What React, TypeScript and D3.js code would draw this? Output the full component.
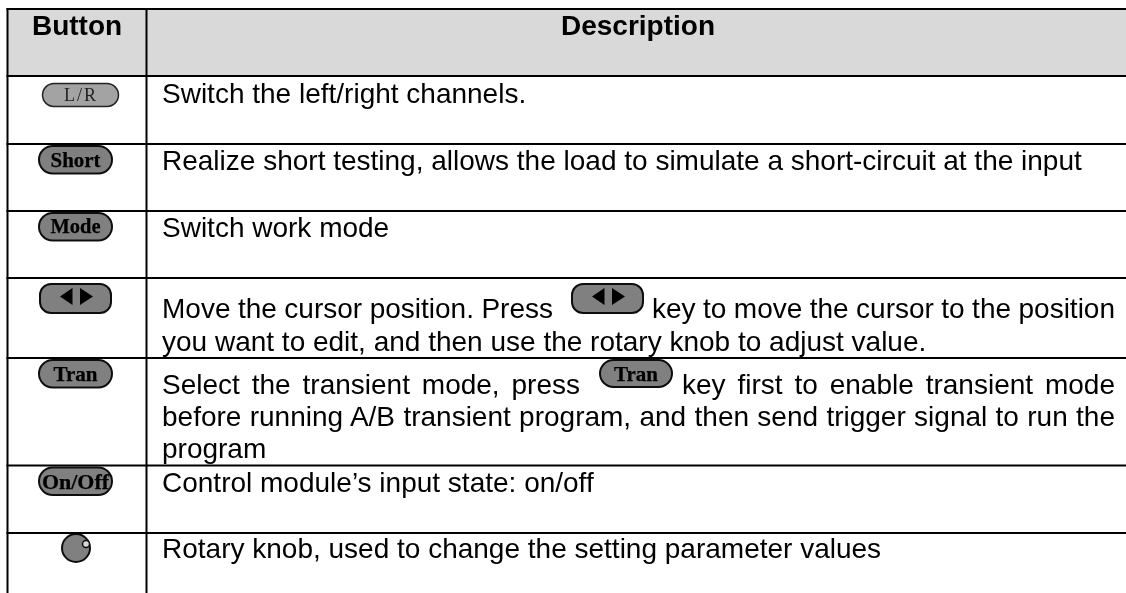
import React, { useEffect, useRef } from "react";
import * as d3 from "d3";

// ---- content ----
const headerLabels = ["Button", "Description"];
const rowKeys = ["lr", "short", "mode", "arrows", "tran", "onoff", "knob"];
const buttonLabels: Record<string, string> = { lr: "L/R", short: "Short", mode: "Mode", tran: "Tran", onoff: "On/Off" };
const rowLines: Record<string, string[][]> = {
  lr: [["Switch the left/right channels."]],
  short: [["Realize short testing, allows the load to simulate a short-circuit at the input"]],
  mode: [["Switch work mode"]],
  arrows: [
    ["Move the cursor position. Press", "key to move the cursor to the position"],
    ["you want to edit, and then use the rotary knob to adjust value."],
  ],
  tran: [
    ["Select the transient mode, press", "key first to enable transient mode"],
    ["before running A/B transient program, and then send trigger signal to run the"],
    ["program"],
  ],
  onoff: [["Control module\u2019s input state: on/off"]],
  knob: [["Rotary knob, used to change the setting parameter values"]],
};

// ---- layout ----
const W = 1126, H = 593;
const hEdges = [9, 76, 144, 211, 278, 358, 465.5, 533];
const vEdges = [7.5, 146.5];
const rowTop = d3.scaleOrdinal<string, number>().domain(rowKeys).range(hEdges.slice(1));
const textX = 162, textRight = 1115, btnX = 38, btnW = 75;
const sans = "'Liberation Sans', Arial, sans-serif";
const serif = "'Liberation Serif', 'Times New Roman', serif";
const baselines: Record<string, number[]> = {
  lr: [103], short: [170], mode: [237], arrows: [318, 351], tran: [394, 426, 458], onoff: [492], knob: [558],
};
// [x0, x1] of each justified segment, by row and line
const spans: Record<string, ([number, number] | null)[][]> = {
  arrows: [[[textX, 553], [652, textRight]], [null]],
  tran: [[[textX, 580], [682, textRight]], [[textX, textRight]], [null]],
};
const labelWidth: Record<string, number> = { short: 50, mode: 50, tran: 44, onoff: 67 };
const labelBase: Record<string, number> = { short: 167, mode: 233, tran: 381, onoff: 489 };

function Arrows({ x, y }: { x: number; y: number }) {
  const tri = d3.line();
  return (
    <g>
      <rect x={x + 1} y={y + 1} width={71} height={29} rx={11} fill="#808080" stroke="#111" strokeWidth={2} />
      <path d={tri([[x + 21, y + 13.5], [x + 33.5, y + 5], [x + 33.5, y + 22]]) + "Z"} fill="#000" />
      <path d={tri([[x + 41, y + 5], [x + 54, y + 13.5], [x + 41, y + 22]]) + "Z"} fill="#000" />
    </g>
  );
}

function Pill({ x, y, w, h, label, width, base }: { x: number; y: number; w: number; h: number; label: string; width: number; base: number }) {
  return (
    <g>
      <rect x={x + 1} y={y + 1} width={w - 2} height={h - 2} rx={(h - 2) / 2} fill="#808080" stroke="#111" strokeWidth={2} />
      <text x={x + w / 2} y={base} textAnchor="middle" fontFamily={serif} fontWeight="bold" fontSize={21}
        fill="#000" stroke="#000" strokeWidth={0.25} textLength={width} lengthAdjust="spacingAndGlyphs">{label}</text>
    </g>
  );
}

export default function App() {
  const ref = useRef<SVGSVGElement>(null);
  useEffect(() => {
    // justify segments by distributing the slack across word gaps
    d3.select(ref.current).selectAll<SVGTextElement, unknown>("text[data-target]").each(function () {
      const target = +this.getAttribute("data-target")!;
      const gaps = (this.textContent || "").split(" ").length - 1;
      const natural = this.getComputedTextLength();
      this.setAttribute("word-spacing", String((target - natural) / gaps));
    });
  }, []);

  return (
    <svg ref={ref} width={W} height={H} style={{ position: "absolute", left: 0, top: 0, background: "#fff" }}>
      <defs>
        <filter id="soft" x="-5%" y="-5%" width="110%" height="110%">
          <feGaussianBlur stdDeviation="0.3" />
        </filter>
      </defs>
      <rect x={vEdges[0]} y={hEdges[0]} width={W - vEdges[0]} height={hEdges[1] - hEdges[0]} fill="#d9d9d9" />

      <g fontFamily={sans} fontSize={28} fill="#000" filter="url(#soft)">
        <text x={77} y={35} textAnchor="middle" fontWeight="bold">{headerLabels[0]}</text>
        <text x={638} y={35} textAnchor="middle" fontWeight="bold">{headerLabels[1]}</text>
        {rowKeys.map((k) =>
          rowLines[k].map((segs, li) =>
            segs.map((s, si) => {
              const span = spans[k]?.[li]?.[si] ?? null;
              return (
                <text key={k + li + si} x={span ? span[0] : textX} y={baselines[k][li]}
                  data-target={span ? span[1] - span[0] : undefined}>{s}</text>
              );
            })
          )
        )}
      </g>

      <g filter="url(#soft)">
        {/* L/R key is lighter with a thin outline */}
        <rect x={42.5} y={83.5} width={76} height={23} rx={11.5} fill="#a3a3a3" stroke="#222" strokeWidth={1.5} />
        <text x={80} y={100.5} textAnchor="middle" fontFamily={serif} fontSize={18} fill="#222"
          textLength={32} lengthAdjust="spacing">{buttonLabels.lr}</text>

        {["short", "mode", "tran", "onoff"].map((k) => (
          <Pill key={k} x={btnX} y={rowTop(k) + 1} w={btnW} h={29.5} label={buttonLabels[k]}
            width={labelWidth[k]} base={labelBase[k]} />
        ))}
        <Pill x={599} y={359} w={74} h={29} label={buttonLabels.tran} width={44} base={381} />

        <Arrows x={39} y={283} />
        <Arrows x={571} y={283} />

        <circle cx={76} cy={548} r={14} fill="#808080" stroke="#111" strokeWidth={2} />
        <circle cx={86} cy={544} r={3.5} fill="#d8d8d8" stroke="#111" strokeWidth={1.5} />
      </g>

      <g stroke="#000" strokeWidth={2}>
        {hEdges.map((y) => <line key={y} x1={vEdges[0] - 1} x2={W} y1={y} y2={y} />)}
        {vEdges.map((x) => <line key={x} x1={x} x2={x} y1={hEdges[0] - 1} y2={H} />)}
      </g>
    </svg>
  );
}
